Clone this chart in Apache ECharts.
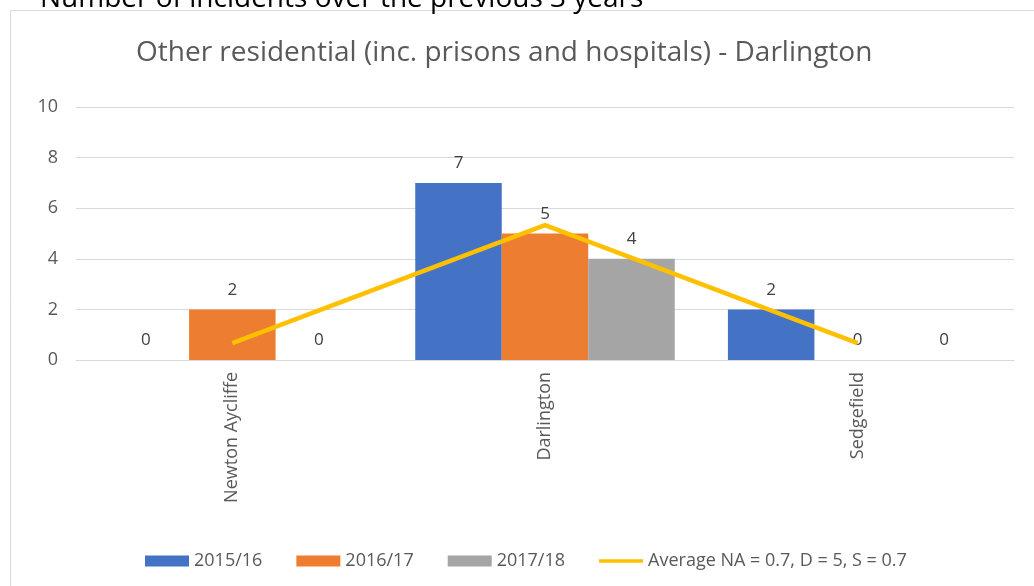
<!DOCTYPE html>
<html>
<head>
<meta charset="utf-8">
<script src="https://cdn.jsdelivr.net/npm/echarts@6/dist/echarts.min.js"></script>
<style>
html,body{margin:0;padding:0;background:#fff;}
#main{width:1034px;height:586px;}
</style>
</head>
<body>
<div id="main"></div>
<script>
var categories = ['Newton Aycliffe', 'Darlington', 'Sedgefield'];
var s2015 = [0, 7, 2];
var s2016 = [2, 5, 0];
var s2017 = [0, 4, 0];
var average = [0.67, 5.33, 0.67];
var yTicks = [0, 2, 4, 6, 8, 10];
var seriesNames = ['2015/16', '2016/17', '2017/18', 'Average NA = 0.7, D = 5, S = 0.7'];
var titleText = 'Other residential (inc. prisons and hospitals) - Darlington';
var headerText = 'Number of incidents over the previous 3 years';

var FONT = 'Open Sans';
var chart = echarts.init(document.getElementById('main'));
var barLabel = {show: true, position: 'top', distance: 11, color: '#404040', fontSize: 17, fontFamily: FONT};
function bar(name, data, color) {
  return {name: name, type: 'bar', data: data, itemStyle: {color: color}, label: barLabel,
    barGap: '0%', barCategoryGap: '17%'};
}
var lineIcon = 'path://M0,0 L0.01,0 L0,0.01 Z M0,3.5 L50,3.5 L50,7.5 L0,7.5 Z M50,11 L49.99,11 L50,10.99 Z';
chart.setOption({
  animation: false,
  graphic: [
    {type: 'rect', shape: {x: 10.5, y: 10.5, width: 1040, height: 600}, style: {fill: 'none', stroke: '#d9d9d9', lineWidth: 1}, z: -1},
    {type: 'text', left: 40, top: -15, style: {text: headerText, font: '28px "Open Sans"', fill: '#000'}}
  ],
  title: {text: titleText, left: 131, top: 34,
    textStyle: {fontFamily: FONT, fontSize: 28, fontWeight: 'normal', color: '#595959'}},
  legend: {left: 140, top: 547, itemWidth: 44, itemHeight: 11, itemGap: 34,
    textStyle: {fontFamily: FONT, fontSize: 18, color: '#595959'},
    data: [
      {name: seriesNames[0], icon: 'rect'},
      {name: seriesNames[1], icon: 'rect'},
      {name: seriesNames[2], icon: 'rect'},
      {name: seriesNames[3], icon: lineIcon, itemStyle: {color: '#FFC000'}}
    ]},
  grid: {left: 76, right: 20, top: 107, bottom: 226, containLabel: false},
  xAxis: {type: 'category', data: categories,
    axisLine: {lineStyle: {color: '#d9d9d9'}}, axisTick: {show: false},
    axisLabel: {rotate: 90, margin: 12, fontFamily: FONT, fontSize: 18, color: '#595959'}},
  yAxis: {type: 'value', min: yTicks[0], max: yTicks[yTicks.length - 1], interval: 2,
    axisLine: {show: false}, axisTick: {show: false},
    splitLine: {lineStyle: {color: '#d9d9d9'}},
    axisLabel: {margin: 18, fontFamily: FONT, fontSize: 18, color: '#595959'}},
  series: [
    bar(seriesNames[0], s2015, '#4472C4'),
    bar(seriesNames[1], s2016, '#ED7D31'),
    bar(seriesNames[2], s2017, '#A5A5A5'),
    {name: seriesNames[3], type: 'line', data: average, symbol: 'none',
      lineStyle: {color: '#FFC000', width: 4.5}, itemStyle: {color: '#FFC000'}, z: 5}
  ]
});
</script>
</body>
</html>
